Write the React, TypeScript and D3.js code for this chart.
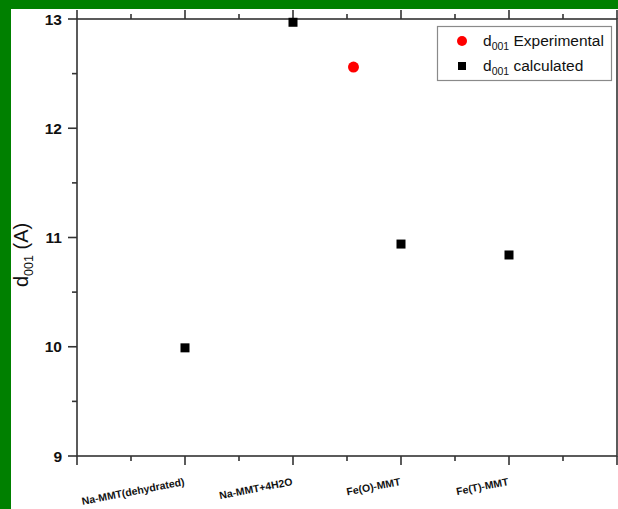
import React from "react";
import * as d3 from "d3";

const categories = ["Na-MMT(dehydrated)", "Na-MMT+4H2O", "Fe(O)-MMT", "Fe(T)-MMT"];
const categoryPositions = [1, 2, 3, 4];
const calculatedValues = [9.99, 12.97, 10.94, 10.84];
const experimentalX = [2.56];
const experimentalValues = [12.56];
const yMajorTicks = [9, 10, 11, 12, 13];
const yMinorTicks = [9.5, 10.5, 11.5, 12.5];
const xMajorTicks = [0, 1, 2, 3, 4, 5];
const xMinorTicks = [0.5, 1.5, 2.5, 3.5, 4.5];

const W = 618;
const H = 509;
const FONT = "'Liberation Sans', Arial, Helvetica, sans-serif";
const AXIS = "#333333";

export default function App() {
  const x = d3.scaleLinear().domain([0, 5]).range([77, 617]);
  const y = d3.scaleLinear().domain([9, 13]).range([456, 19]);
  const [x0, x1] = x.range();
  const [yb, yt] = y.range();

  return (
    <div style={{ position: "absolute", left: 0, top: 0 }}>
      <svg width={W} height={H} style={{ display: "block" }} fontFamily={FONT}>
        <rect x={0} y={0} width={W} height={H} fill="#ffffff" />
        <rect x={0} y={0} width={W} height={9} fill="#008000" />
        <rect x={0} y={0} width={11} height={H} fill="#008000" />

        {/* frame */}
        <rect x={x0} y={yt} width={x1 - x0} height={yb - yt} fill="none" stroke={AXIS} strokeWidth={1.6} />

        {/* y ticks (left) */}
        {yMajorTicks.map((t) => (
          <line key={"ym" + t} x1={x0 - 9} x2={x0} y1={y(t)} y2={y(t)} stroke={AXIS} strokeWidth={1.6} />
        ))}
        {yMinorTicks.map((t) => (
          <line key={"yn" + t} x1={x0 - 5} x2={x0} y1={y(t)} y2={y(t)} stroke={AXIS} strokeWidth={1.6} />
        ))}
        {yMajorTicks.map((t) => (
          <text key={"yl" + t} x={62} y={y(t)} dy="0.36em" textAnchor="end" fontSize={15.5} fontWeight="bold" fill="#111">
            {t}
          </text>
        ))}

        {/* x ticks bottom & top */}
        {xMajorTicks.map((t) => (
          <g key={"xm" + t}>
            <line x1={x(t)} x2={x(t)} y1={yb} y2={yb + 9} stroke={AXIS} strokeWidth={1.6} />
            <line x1={x(t)} x2={x(t)} y1={yt} y2={yt - 9} stroke={AXIS} strokeWidth={1.6} />
          </g>
        ))}
        {xMinorTicks.map((t) => (
          <g key={"xn" + t}>
            <line x1={x(t)} x2={x(t)} y1={yb} y2={yb + 5} stroke={AXIS} strokeWidth={1.6} />
            <line x1={x(t)} x2={x(t)} y1={yt} y2={yt - 5} stroke={AXIS} strokeWidth={1.6} />
          </g>
        ))}
        {categories.map((c, i) => (
          <text
            key={"xl" + c}
            transform={`translate(${x(categoryPositions[i])},${485}) rotate(-11)`}
            textAnchor="end"
            fontSize={10.5}
            fontWeight="bold"
            fill="#111"
          >
            {c}
          </text>
        ))}

        {/* y axis title */}
        <text transform={`translate(28,${y(10.84)}) rotate(-90)`} textAnchor="middle" fontSize={20} fill="#111">
          <tspan>d</tspan>
          <tspan fontSize={12.5} dy={5}>001</tspan>
          <tspan dy={-5}> (A)</tspan>
        </text>

        {/* data */}
        {calculatedValues.map((v, i) => (
          <rect key={"c" + i} x={x(categoryPositions[i]) - 4.5} y={y(v) - 4.5} width={9} height={9} fill="#000" />
        ))}
        {experimentalValues.map((v, i) => (
          <circle key={"e" + i} cx={x(experimentalX[i])} cy={y(v)} r={5.5} fill="#ff0000" />
        ))}

        {/* legend */}
        <rect x={437.5} y={26.5} width={174} height={54} fill="#fff" stroke="#8a8a8a" strokeWidth={1.2} />
        <circle cx={462} cy={41} r={5} fill="#ff0000" />
        <rect x={458} y={62} width={8} height={8} fill="#000" />
        <text x={483} y={46} fontSize={15.5} fill="#111">
          <tspan>d</tspan>
          <tspan fontSize={10.5} dy={4}>001</tspan>
          <tspan dy={-4}> Experimental</tspan>
        </text>
        <text x={483} y={71} fontSize={15.5} fill="#111">
          <tspan>d</tspan>
          <tspan fontSize={10.5} dy={4}>001</tspan>
          <tspan dy={-4}> calculated</tspan>
        </text>
      </svg>
    </div>
  );
}
